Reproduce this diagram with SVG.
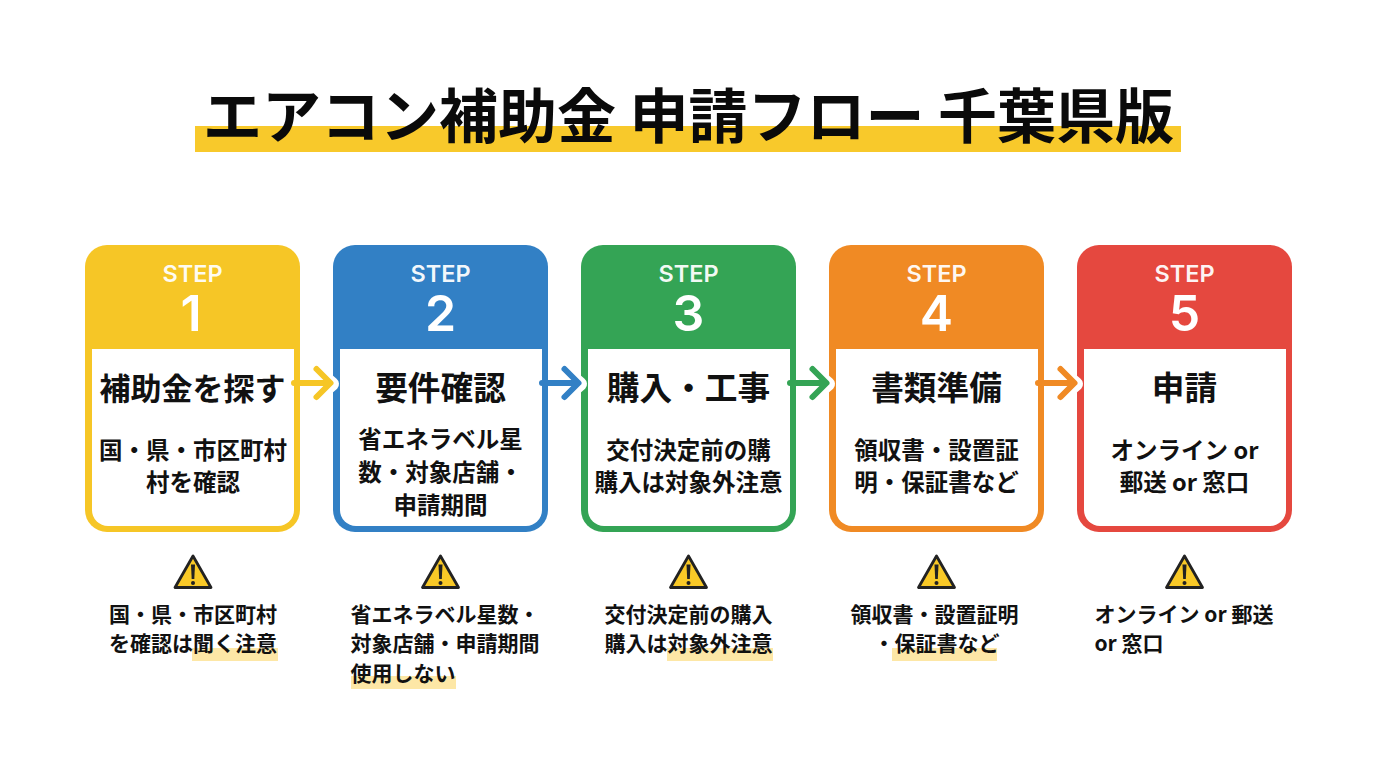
<svg xmlns="http://www.w3.org/2000/svg" width="1376" height="768" viewBox="0 0 1376 768">
<style>
text{font-family:"Noto Sans CJK JP","Noto Sans",sans-serif;text-anchor:middle;fill:#111}
.step{font-family:Inter,"Liberation Sans",sans-serif;font-size:23.5px;font-weight:600;fill:#fff;fill-opacity:.94}
.num{font-family:Inter,"Liberation Sans",sans-serif;font-size:50px;font-weight:600;fill:#fff}
.head{font-size:32.7px;font-weight:700}
.body{font-size:23.5px;font-weight:700}
.note{font-size:21px;font-weight:700}
.hl{fill:#fde7a6}
.inner{fill:#fff}
.arrow{fill:none;stroke-width:6;stroke-linecap:round;stroke-linejoin:round}
.halo{fill:none;stroke:#fff;stroke-width:14;stroke-linecap:butt;stroke-linejoin:round}
</style>
<defs>
<g id="warn">
<path d="M0 -17 L-18 14.500 H18 Z" fill="#f9c927" stroke="#222" stroke-width="2.800" stroke-linejoin="round"/>
<path d="M-2 -8.500 H2 L1.300 6 H-1.300 Z" fill="#222"/>
<circle cx="0" cy="10" r="2" fill="#222"/>
</g>
</defs>
<rect width="1376" height="768" fill="#fff"/>
<g id="title">
<rect x="195" y="126" width="986" height="26" fill="#f8c92b"/>
<text x="688.500" y="137.500" font-size="59" font-weight="700" textLength="971" lengthAdjust="spacing" style="fill:#0a0a0a">エアコン補助金 申請フロー 千葉県版</text>
</g>
<g id="step1">
<rect x="85" y="245" width="215" height="287" rx="22" fill="#f6c626"/>
<path class="inner" d="M92 349 H294 V510 a16 16 0 0 1 -16 16 H108 a16 16 0 0 1 -16 -16 Z"/>
<text class="step" x="192.500" y="282">STEP</text>
<text class="num" x="191" y="331">1</text>
<text class="head" x="192.500" y="400" style="font-size:31px">補助金を探す</text>
<text class="body" x="193" y="459">国・県・市区町村</text>
<text class="body" x="193" y="491">村を確認</text>
</g>
<g id="step2">
<rect x="333" y="245" width="215" height="287" rx="22" fill="#3280c5"/>
<path class="inner" d="M340 349 H542 V510 a16 16 0 0 1 -16 16 H356 a16 16 0 0 1 -16 -16 Z"/>
<text class="step" x="440.500" y="282">STEP</text>
<text class="num" x="440.500" y="331">2</text>
<text class="head" x="440.500" y="400">要件確認</text>
<text class="body" x="440.500" y="448">省エネラベル星</text>
<text class="body" x="440.500" y="481">数・対象店舗・</text>
<text class="body" x="440.500" y="514">申請期間</text>
</g>
<g id="step3">
<rect x="581" y="245" width="215" height="287" rx="22" fill="#34a455"/>
<path class="inner" d="M588 349 H790 V510 a16 16 0 0 1 -16 16 H604 a16 16 0 0 1 -16 -16 Z"/>
<text class="step" x="688.500" y="282">STEP</text>
<text class="num" x="688.500" y="331">3</text>
<text class="head" x="688.500" y="400">購入・工事</text>
<text class="body" x="688.500" y="459">交付決定前の購</text>
<text class="body" x="688.500" y="491">購入は対象外注意</text>
</g>
<g id="step4">
<rect x="829" y="245" width="215" height="287" rx="22" fill="#f08a24"/>
<path class="inner" d="M836 349 H1038 V510 a16 16 0 0 1 -16 16 H852 a16 16 0 0 1 -16 -16 Z"/>
<text class="step" x="936.500" y="282">STEP</text>
<text class="num" x="936.500" y="331">4</text>
<text class="head" x="936.500" y="400">書類準備</text>
<text class="body" x="936.500" y="459">領収書・設置証</text>
<text class="body" x="936.500" y="491">明・保証書など</text>
</g>
<g id="step5">
<rect x="1077" y="245" width="215" height="287" rx="22" fill="#e5483f"/>
<path class="inner" d="M1084 349 H1286 V510 a16 16 0 0 1 -16 16 H1100 a16 16 0 0 1 -16 -16 Z"/>
<text class="step" x="1184.500" y="282">STEP</text>
<text class="num" x="1184.500" y="331">5</text>
<text class="head" x="1184.500" y="400">申請</text>
<text class="body" x="1184.500" y="459">オンライン or</text>
<text class="body" x="1184.500" y="491">郵送 or 窓口</text>
</g>
<g id="connectors">
<path class="halo" d="M318 372 L332 384 L318 396"/>
<path class="arrow" stroke="#f6c626" d="M294 383 H330 M316.500 369 L330.500 383 L316.500 397"/>
<path class="halo" d="M566 372 L580 384 L566 396"/>
<path class="arrow" stroke="#3280c5" d="M542 383 H578 M564.500 369 L578.500 383 L564.500 397"/>
<path class="halo" d="M814 372 L828 384 L814 396"/>
<path class="arrow" stroke="#34a455" d="M790 383 H826 M812.500 369 L826.500 383 L812.500 397"/>
<path class="halo" d="M1062 372 L1076 384 L1062 396"/>
<path class="arrow" stroke="#f08a24" d="M1038 383 H1074 M1060.500 369 L1074.500 383 L1060.500 397"/>
</g>
<g id="note1">
<use href="#warn" x="193" y="573"/>
<rect class="hl" x="192" y="648" width="86" height="13"/>
<text class="note" x="193" y="622">国・県・市区町村</text>
<text class="note" x="193" y="651">を確認は聞く注意</text>
</g>
<g id="note2">
<use href="#warn" x="440.500" y="573"/>
<rect class="hl" x="351" y="676" width="105" height="13"/>
<text class="note" x="445" y="622">省エネラベル星数・</text>
<text class="note" x="445" y="651">対象店舗・申請期間</text>
<text class="note" x="403" y="681">使用しない</text>
</g>
<g id="note3">
<use href="#warn" x="688.500" y="573"/>
<rect class="hl" x="667" y="648" width="106" height="13"/>
<text class="note" x="688.500" y="622">交付決定前の購入</text>
<text class="note" x="688.500" y="651">購入は対象外注意</text>
</g>
<g id="note4">
<use href="#warn" x="936.500" y="573"/>
<rect class="hl" x="892" y="648" width="105" height="13"/>
<text class="note" x="934.500" y="622">領収書・設置証明</text>
<text class="note" x="936.500" y="651">・保証書など</text>
</g>
<g id="note5">
<use href="#warn" x="1184.500" y="573"/>
<text class="note" x="1184" y="622">オンライン or 郵送</text>
<text class="note" x="1129" y="651">or 窓口</text>
</g>
</svg>
